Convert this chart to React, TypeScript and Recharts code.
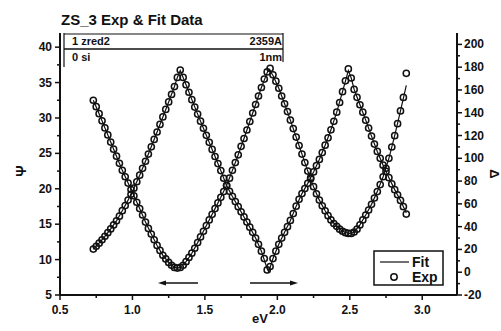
import React from "react";
import { ComposedChart, Line, Scatter, XAxis, YAxis } from "recharts";

// measured points (eV grid of the experiment)
const evExp = [
  0.73, 0.75, 0.77, 0.79, 0.81, 0.83, 0.85, 0.87, 0.89, 0.91, 0.93, 0.95, 0.97, 0.99,
  1.01, 1.03, 1.05, 1.07, 1.09, 1.11, 1.13, 1.15, 1.17, 1.19, 1.21, 1.23, 1.25, 1.27, 1.29,
  1.31, 1.33, 1.35, 1.37, 1.39, 1.41, 1.43, 1.45, 1.47, 1.49, 1.51, 1.53, 1.55, 1.57, 1.59,
  1.61, 1.63, 1.65, 1.67, 1.69, 1.71, 1.73, 1.75, 1.77, 1.79, 1.81, 1.83, 1.85, 1.87, 1.89,
  1.91, 1.93, 1.95, 1.97, 1.99, 2.01, 2.03, 2.05, 2.07, 2.09, 2.11, 2.13, 2.15, 2.17, 2.19,
  2.21, 2.23, 2.25, 2.27, 2.29, 2.31, 2.33, 2.35, 2.37, 2.39, 2.41, 2.43, 2.45, 2.47, 2.49,
  2.51, 2.53, 2.55, 2.57, 2.59, 2.61, 2.63, 2.65, 2.67, 2.69, 2.71, 2.73, 2.75, 2.77, 2.79,
  2.81, 2.83, 2.85, 2.87, 2.89,
];

const psiExp = [
  32.5, 31.6, 30.6, 29.6, 28.6, 27.6, 26.6, 25.6, 24.6, 23.6, 22.6, 21.7, 20.8, 19.9,
  19.0, 18.1, 17.2, 16.3, 15.3, 14.4, 13.6, 12.8, 12.0, 11.3, 10.6, 10.1, 9.6, 9.2, 8.9,
  8.8, 8.9, 9.2, 9.7, 10.3, 10.9, 11.6, 12.4, 13.2, 14.0, 14.8, 15.6, 16.4, 17.2, 18.0,
  18.8, 19.6, 20.5, 21.5, 22.6, 23.7, 24.8, 26.0, 27.1, 28.3, 29.5, 30.7, 31.9, 33.1, 34.3,
  35.5, 36.5, 37.0, 36.1, 35.2, 34.2, 33.1, 32.0, 30.9, 29.7, 28.5, 27.3, 26.1, 24.9, 23.7,
  22.5, 21.4, 20.3, 19.3, 18.4, 17.6, 16.9, 16.2, 15.6, 15.1, 14.7, 14.3, 14.0, 13.8, 13.7,
  13.7, 13.9, 14.3, 14.9, 15.6, 16.3, 17.0, 17.8, 18.7, 19.6, 20.6, 21.7, 22.9, 24.3, 25.9,
  27.5, 29.2, 31.0, 32.9, 36.3,
];

const deltaExp = [
  20.3, 22.8, 25.5, 28.4, 31.5, 34.7, 38.0, 41.5, 45.1, 49.2, 54.0, 58.5, 63.3, 68.4,
  73.8, 79.4, 85.2, 91.2, 97.4, 103.7, 110.1, 116.6, 123.1, 129.7, 136.3, 142.9, 149.5, 156.1, 163.0,
  171.0, 177.5, 171.0, 164.5, 158.0, 151.5, 145.0, 138.8, 132.6, 126.4, 120.2, 114.0, 107.8, 101.6, 95.4,
  89.2, 82.5, 76.0, 71.0, 66.5, 62.0, 57.5, 53.0, 48.5, 44.0, 39.5, 35.0, 30.0, 24.5, 18.5,
  12.0, 2.0, 5.0, 12.0, 18.5, 24.5, 30.0, 35.0, 40.0, 45.5, 51.5, 58.0, 64.0, 69.0, 73.5,
  78.0, 83.0, 88.0, 93.5, 99.0, 105.0, 111.5, 118.0, 125.0, 132.5, 140.5, 149.0, 158.5, 168.0, 178.5,
  170.5, 160.5, 153.5, 147.0, 140.5, 133.5, 126.5, 119.5, 112.5, 106.0, 100.0, 94.0, 88.5, 83.0, 77.5,
  72.5, 68.0, 63.0, 57.5, 51.0,
];

// fitted model curve
const evFit = [
  0.73, 0.77, 0.81, 0.85, 0.89, 0.93, 0.97, 1.01, 1.05, 1.09, 1.13, 1.17, 1.21, 1.25, 1.29,
  1.31, 1.33, 1.37, 1.41, 1.45, 1.49, 1.53, 1.57, 1.61, 1.65, 1.69, 1.73, 1.77, 1.81, 1.85,
  1.89, 1.93, 1.94, 1.95, 1.97, 2.01, 2.05, 2.09, 2.13, 2.17, 2.21, 2.25, 2.29, 2.33, 2.37,
  2.41, 2.45, 2.49, 2.51, 2.53, 2.57, 2.61, 2.65, 2.69, 2.73, 2.77, 2.81, 2.85, 2.89,
];

const psiFit = [
  32.5, 30.6, 28.6, 26.6, 24.6, 22.6, 20.8, 19.0, 17.2, 15.3, 13.6, 12.0, 10.6, 9.6, 8.9,
  8.8, 8.9, 9.7, 10.9, 12.4, 14.0, 15.6, 17.2, 18.8, 20.5, 22.6, 24.8, 27.1, 29.5, 31.9,
  34.3, 36.4, 36.8, 36.6, 36.0, 34.2, 32.0, 29.7, 27.3, 24.9, 22.5, 20.3, 18.4, 16.9, 15.6,
  14.7, 14.0, 13.7, 13.7, 13.9, 14.9, 16.3, 17.8, 19.6, 21.7, 24.3, 27.5, 31.0, 34.6,
];

const deltaFit = [
  20.3, 25.5, 31.5, 38.0, 45.1, 54.0, 63.3, 73.8, 85.2, 97.4, 110.1, 123.1, 136.3, 149.5, 163.0,
  171.0, 177.0, 164.5, 151.5, 138.8, 126.4, 114.0, 101.6, 89.2, 76.0, 66.5, 57.5, 48.5, 39.5, 30.0,
  18.5, 3.0, 0.5, 4.0, 12.0, 24.5, 35.0, 45.5, 58.0, 69.0, 78.0, 88.0, 99.0, 111.5, 125.0,
  140.5, 158.5, 177.0, 170.5, 160.5, 147.0, 133.5, 119.5, 106.0, 94.0, 83.0, 72.5, 63.0, 52.0,
];

const evTicks = [0.5, 0.75, 1.0, 1.25, 1.5, 1.75, 2.0, 2.25, 2.5, 2.75, 3.0];
const evMajor = [0.5, 1.0, 1.5, 2.0, 2.5, 3.0];
const psiTicks = [5, 7.5, 10, 12.5, 15, 17.5, 20, 22.5, 25, 27.5, 30, 32.5, 35, 37.5, 40];
const psiMajor = [5, 10, 15, 20, 25, 30, 35, 40];
const deltaTicks = [
  -20, -10, 0, 10, 20, 30, 40, 50, 60, 70, 80, 90, 100, 110, 120, 130, 140, 150, 160, 170,
  180, 190, 200,
];
const deltaMajor = [-20, 0, 20, 40, 60, 80, 100, 120, 140, 160, 180, 200];

const psiExpData = evExp.map((x, i) => ({ x, y: psiExp[i] }));
const deltaExpData = evExp.map((x, i) => ({ x, y: deltaExp[i] }));
const psiFitData = evFit.map((x, i) => ({ x, y: psiFit[i] }));
const deltaFitData = evFit.map((x, i) => ({ x, y: deltaFit[i] }));

const FONT = '"Liberation Sans", Arial, sans-serif';
const INK = "#111";

const isMajor = (list: number[], v: number) => list.some((m) => Math.abs(m - v) < 1e-6);

function BottomTick(props: any) {
  const { x, y, payload } = props;
  const major = isMajor(evMajor, payload.value);
  return (
    <g>
      <line x1={x} x2={x} y1={y} y2={y + (major ? 5 : 3)} stroke={INK} strokeWidth={1.5} />
      {major && (
        <text x={x} y={y + 19} textAnchor="middle" fontSize={12} fontWeight="bold" fontFamily={FONT} fill={INK}>
          {payload.value.toFixed(1)}
        </text>
      )}
    </g>
  );
}

function LeftTick(props: any) {
  const { x, y, payload } = props;
  const major = isMajor(psiMajor, payload.value);
  return (
    <g>
      <line x1={x - (major ? 5 : 3)} x2={x} y1={y} y2={y} stroke={INK} strokeWidth={1.5} />
      {major && (
        <text x={x - 8} y={y + 4} textAnchor="end" fontSize={12} fontWeight="bold" fontFamily={FONT} fill={INK}>
          {payload.value}
        </text>
      )}
    </g>
  );
}

function RightTick(props: any) {
  const { x, y, payload } = props;
  const major = isMajor(deltaMajor, payload.value);
  return (
    <g>
      <line x1={x} x2={x + (major ? 5 : 3)} y1={y} y2={y} stroke={INK} strokeWidth={1.5} />
      {major && (
        <text x={x + 7} y={y + 4} textAnchor="start" fontSize={12} fontWeight="bold" fontFamily={FONT} fill={INK}>
          {payload.value}
        </text>
      )}
    </g>
  );
}

const ring = (props: any) => (
  <circle cx={props.cx} cy={props.cy} r={3.1} fill="none" stroke={INK} strokeWidth={1.5} />
);

export default function App() {
  return (
    <div style={{ position: "absolute", left: 0, top: 0, width: 501, height: 331, background: "#fff" }}>
      <ComposedChart width={501} height={331} margin={{ top: 33, right: 4, bottom: 6, left: 20 }}>
        <XAxis
          xAxisId="ev"
          dataKey="x"
          type="number"
          domain={[0.5, 3.24]}
          ticks={evTicks}
          interval={0}
          allowDataOverflow
          height={30}
          tickSize={0}
          tickMargin={0}
          tickLine={false}
          tick={<BottomTick />}
          axisLine={{ stroke: INK, strokeWidth: 2 }}
        />
        <YAxis
          yAxisId="psi"
          type="number"
          domain={[5, 42]}
          ticks={psiTicks}
          interval={0}
          allowDataOverflow
          width={40}
          tickSize={0}
          tickMargin={0}
          tickLine={false}
          tick={<LeftTick />}
          axisLine={{ stroke: INK, strokeWidth: 2 }}
        />
        <YAxis
          yAxisId="delta"
          orientation="right"
          type="number"
          domain={[-20, 210]}
          ticks={deltaTicks}
          interval={0}
          allowDataOverflow
          width={40}
          tickSize={0}
          tickMargin={0}
          tickLine={false}
          tick={<RightTick />}
          axisLine={{ stroke: INK, strokeWidth: 2 }}
        />
        <Scatter xAxisId="ev" yAxisId="psi" data={psiExpData} dataKey="y" shape={ring} isAnimationActive={false} />
        <Scatter xAxisId="ev" yAxisId="delta" data={deltaExpData} dataKey="y" shape={ring} isAnimationActive={false} />
        <Line xAxisId="ev" yAxisId="psi" data={psiFitData} dataKey="y" type="linear" stroke={INK} strokeWidth={1.2} dot={false} isAnimationActive={false} />
        <Line xAxisId="ev" yAxisId="delta" data={deltaFitData} dataKey="y" type="linear" stroke={INK} strokeWidth={1.2} dot={false} isAnimationActive={false} />
      </ComposedChart>

      <svg width={501} height={331} style={{ position: "absolute", left: 0, top: 0, pointerEvents: "none" }} fontFamily={FONT}>
        <text x={61} y={25} fontSize={15} fontWeight="bold" fill={INK}>ZS_3 Exp &amp; Fit Data</text>

        {/* layer table */}
        <g stroke={INK} strokeWidth={1.2} fill="none">
          <line x1={64} x2={283} y1={34} y2={34} />
          <line x1={64} x2={283} y1={49} y2={49} strokeWidth={1.6} />
          <line x1={64} x2={64} y1={33} y2={67} />
          <line x1={283} x2={283} y1={33} y2={62} />
        </g>
        <g fontSize={11} fontWeight="bold" fill={INK}>
          <text x={72} y={45}>1 zred2</text>
          <text x={282} y={45} textAnchor="end">2359A</text>
          <text x={72} y={61}>0 si</text>
          <text x={282} y={61} textAnchor="end">1nm</text>
        </g>

        {/* axis titles */}
        <text x={21} y={171} transform="rotate(-90 21 171)" textAnchor="middle" dominantBaseline="central" fontSize={14} fontWeight="bold" fill={INK}>Ψ</text>
        <text x={494} y={174} transform="rotate(90 494 174)" textAnchor="middle" dominantBaseline="central" fontSize={13} fontWeight="bold" fill={INK}>Δ</text>
        <text x={260} y={323} textAnchor="middle" fontSize={13} fontWeight="bold" fill={INK}>eV</text>

        {/* axis hint arrows */}
        <line x1={164} x2={198} y1={283} y2={283} stroke={INK} strokeWidth={1.5} />
        <path d="M158,283 L166,280.5 L166,285.5 Z" fill={INK} />
        <line x1={250} x2={292} y1={283} y2={283} stroke={INK} strokeWidth={1.5} />
        <path d="M298,283 L290,280.5 L290,285.5 Z" fill={INK} />

        {/* legend */}
        <rect x={374} y={251} width={69} height={34} fill="#fff" stroke={INK} strokeWidth={1.5} />
        <line x1={380} x2={409} y1={262} y2={262} stroke={INK} strokeWidth={1.2} />
        <text x={412} y={267} fontSize={14} fontWeight="bold" fill={INK}>Fit</text>
        <circle cx={394} cy={277} r={3.2} fill="none" stroke={INK} strokeWidth={1.5} />
        <text x={412} y={282} fontSize={14} fontWeight="bold" fill={INK}>Exp</text>
      </svg>
    </div>
  );
}
